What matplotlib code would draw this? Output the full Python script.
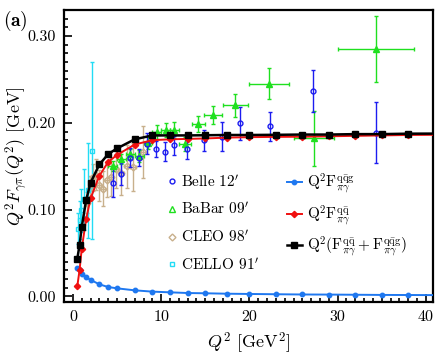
import numpy as np
import matplotlib.pyplot as plt
from matplotlib.lines import Line2D
from matplotlib.ticker import MultipleLocator, FormatStrFormatter

plt.rcParams['font.family'] = 'serif'
plt.rcParams['font.serif'] = ['cmr10']
plt.rcParams['mathtext.fontset'] = 'cm'
plt.rcParams['axes.formatter.use_mathtext'] = True

# Theory curves (last point only extends the line to the frame)
q2_th = [0.5, 0.75, 1, 1.5, 2, 3, 4, 5, 7, 9, 11, 13, 15, 17.5, 20, 23, 26, 29, 32, 35, 38, 41]
f_qqg = [0.0327, 0.030, 0.026, 0.022, 0.019, 0.0138, 0.0107, 0.0092, 0.0069, 0.0054, 0.0046,
         0.0038, 0.0035, 0.0030, 0.0027, 0.0024, 0.0021, 0.0020, 0.0018, 0.0016, 0.0015, 0.0014]
f_qq = [0.012, 0.030, 0.055, 0.089, 0.113, 0.139, 0.155, 0.163, 0.175, 0.180, 0.181,
        0.1815, 0.182, 0.183, 0.1835, 0.1838, 0.184, 0.1845, 0.185, 0.1855, 0.186, 0.1862]
f_tot = [0.0435, 0.059, 0.080, 0.111, 0.131, 0.152, 0.164, 0.1705, 0.181, 0.1855, 0.1855,
         0.1855, 0.1857, 0.186, 0.186, 0.1862, 0.1865, 0.1865, 0.187, 0.187, 0.1875, 0.1876]

# Belle 2012
belle_q2 = [4.5, 5.5, 6.5, 7.5, 8.45, 9.45, 10.45, 11.45, 12.95, 14.9, 16.9, 18.95, 22.3, 27.25, 34.35]
belle_f = [0.131, 0.141, 0.160, 0.160, 0.176, 0.170, 0.1665, 0.174, 0.1695, 0.180, 0.184,
           0.1995, 0.196, 0.2365, 0.1885]
belle_err = [0.017, 0.013, 0.011, 0.010, 0.012, 0.009, 0.011, 0.011, 0.011, 0.012, 0.017,
             0.019, 0.017, 0.024, 0.035]

# BaBar 2009
babar_q2 = [4.5, 5.5, 6.5, 7.5, 8.5, 9.5, 10.5, 11.5, 12.7, 14.2, 15.9, 18.4, 22.25, 27.3, 34.35]
babar_f = [0.150, 0.158, 0.164, 0.162, 0.177, 0.189, 0.1915, 0.192, 0.176, 0.199, 0.209,
           0.220, 0.245, 0.182, 0.285]
babar_err = [0.006, 0.006, 0.006, 0.007, 0.007, 0.008, 0.008, 0.009, 0.008, 0.009, 0.010,
             0.013, 0.018, 0.032, 0.038]
babar_xerr = [0.5, 0.5, 0.5, 0.5, 0.5, 0.5, 0.5, 0.5, 0.7, 0.75, 1.0, 1.4, 2.25, 2.3, 4.35]

# CLEO 1998
cleo_q2 = [1.64, 1.92, 2.23, 2.58, 2.96, 3.38, 3.83, 4.33, 4.88, 5.48, 6.13, 6.82, 7.89]
cleo_f = [0.108, 0.125, 0.137, 0.140, 0.128, 0.124, 0.134, 0.138, 0.147, 0.142, 0.150, 0.149, 0.166]
cleo_err = [0.012, 0.014, 0.016, 0.018, 0.018, 0.020, 0.020, 0.022, 0.022, 0.025, 0.025, 0.028, 0.030]
cleo_xerr = [0.14, 0.14, 0.16, 0.18, 0.20, 0.22, 0.24, 0.26, 0.28, 0.30, 0.34, 0.36, 0.50]

# CELLO 1991
cello_q2 = [0.54, 0.77, 0.95, 1.24, 1.74, 2.2]
cello_f = [0.078, 0.088, 0.099, 0.112, 0.122, 0.168]
cello_err = [0.018, 0.022, 0.025, 0.035, 0.055, 0.102]

c_belle = '#1c1cf0'
c_babar = '#1fe01f'
c_cleo = '#c8b08c'
c_cello = '#22dcf5'
c_blue = '#1f78f0'
c_red = '#f01010'

fig = plt.figure(figsize=(4.36, 3.6), dpi=100)
ax = fig.add_axes([0.147, 0.161, 0.846, 0.811])

ax.errorbar(cleo_q2, cleo_f, yerr=cleo_err, xerr=cleo_xerr, fmt='D', ms=3.5, mfc='none',
            mec=c_cleo, ecolor=c_cleo, elinewidth=1, capsize=1.5, zorder=2)
ax.errorbar(cello_q2, cello_f, yerr=cello_err, fmt='s', ms=3.5, mfc='none',
            mec=c_cello, ecolor=c_cello, elinewidth=1, capsize=1.5, zorder=2)
ax.errorbar(babar_q2, babar_f, yerr=babar_err, xerr=babar_xerr, fmt='^', ms=4, color=c_babar,
            ecolor=c_babar, elinewidth=1, capsize=1.5, zorder=3)
ax.errorbar(belle_q2, belle_f, yerr=belle_err, fmt='o', ms=3.5, mfc='none', mew=1,
            mec=c_belle, ecolor=c_belle, elinewidth=1, capsize=1.5, zorder=3)

mk = slice(0, -1)
ax.plot(q2_th, f_qqg, color=c_blue, lw=1.4, marker='o', ms=3.2, markevery=mk, zorder=4)
ax.plot(q2_th, f_qq, color=c_red, lw=1.4, marker='D', ms=3.2, markevery=mk, zorder=5)
ax.plot(q2_th, f_tot, color='black', lw=1.8, marker='s', ms=4.5, markevery=mk, zorder=6)

ax.set_xlim(-1, 40.8)
ax.set_ylim(-0.0066, 0.33)
ax.xaxis.set_major_locator(MultipleLocator(10))
ax.xaxis.set_minor_locator(MultipleLocator(1))
ax.yaxis.set_major_locator(MultipleLocator(0.1))
ax.yaxis.set_minor_locator(MultipleLocator(0.01))
ax.yaxis.set_major_formatter(FormatStrFormatter('%.2f'))
ax.xaxis.set_major_formatter(FormatStrFormatter('%d'))
ax.tick_params(which='both', direction='in', top=False, right=False, labelsize=11.5, width=1.2)
ax.tick_params(which='major', length=6, pad=6)
ax.tick_params(which='minor', length=3)
for s in ax.spines.values():
    s.set_linewidth(1.6)

ax.set_xlabel(r'$Q^2$ [GeV$^2$]', fontsize=13, labelpad=5)
ax.set_ylabel(r'$Q^2F_{\gamma\pi}(Q^2)$ [GeV]', fontsize=13)
ax.yaxis.set_label_coords(-0.093, 0.5)
fig.text(0.008, 0.975, r'$\mathbf{(a)}$', fontsize=14, va='top', ha='left')

h1 = [Line2D([], [], ls='none', marker='o', ms=3.5, mfc='none', mec=c_belle),
      Line2D([], [], ls='none', marker='^', ms=4, mfc='none', mec=c_babar),
      Line2D([], [], ls='none', marker='D', ms=3.5, mfc='none', mec=c_cleo),
      Line2D([], [], ls='none', marker='s', ms=3.5, mfc='none', mec=c_cello)]
l1 = ["Belle 12$'$", "BaBar 09$'$", "CLEO 98$'$", "CELLO 91$'$"]
leg1 = ax.legend(h1, l1, loc='upper left', bbox_to_anchor=(0.275, 0.44), frameon=False,
                 fontsize=11, handlelength=0.8, handletextpad=0.2, labelspacing=0.75,
                 borderpad=0, borderaxespad=0)
ax.add_artist(leg1)

h2 = [Line2D([], [], color=c_blue, lw=1.4, marker='o', ms=3.2),
      Line2D([], [], color=c_red, lw=1.4, marker='D', ms=3.2),
      Line2D([], [], color='black', lw=1.8, marker='s', ms=4)]
l2 = [r'$\mathrm{Q^2F_{\pi\gamma}^{q\bar{q}g}}$',
      r'$\mathrm{Q^2F_{\pi\gamma}^{q\bar{q}}}$',
      r'$\mathrm{Q^2(F_{\pi\gamma}^{q\bar{q}}+F_{\pi\gamma}^{q\bar{q}g})}$']
ax.legend(h2, l2, loc='upper left', bbox_to_anchor=(0.603, 0.445), frameon=False,
          fontsize=11, handlelength=1.0, handletextpad=0.35, labelspacing=0.45,
          borderpad=0, borderaxespad=0)

plt.savefig('out.png', dpi=100)
